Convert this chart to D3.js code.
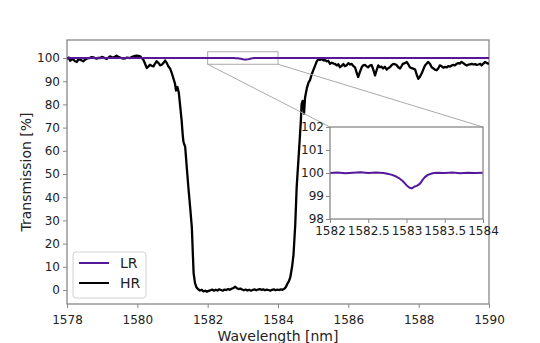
<!DOCTYPE html>
<html>
<head>
<meta charset="utf-8">
<script src="https://cdn.jsdelivr.net/npm/d3@7"></script>
<style>
  body { margin: 0; background: #fff; }
  text { font-family: "DejaVu Sans", sans-serif; fill: #222; }
</style>
</head>
<body>
<div id="chart"></div>
<script>
// HR measurement (wavelength nm, transmission %)
var hrWavelength = [
  1578.00,1578.05,1578.09,1578.14,1578.18,1578.23,1578.28,1578.32,1578.37,1578.42,
  1578.46,1578.51,1578.56,1578.61,1578.65,1578.70,1578.75,1578.80,1578.84,1578.89,
  1578.94,1578.99,1579.03,1579.08,1579.13,1579.18,1579.22,1579.27,1579.32,1579.37,
  1579.41,1579.46,1579.51,1579.56,1579.60,1579.65,1579.70,1579.75,1579.79,1579.84,
  1579.89,1579.94,1579.98,1580.03,1580.08,1580.12,1580.17,1580.22,1580.27,1580.31,
  1580.36,1580.41,1580.46,1580.50,1580.55,1580.60,1580.65,1580.70,1580.74,1580.79,
  1580.84,1580.88,1580.93,1580.98,1581.02,1581.07,1581.10,1581.14,1581.18,1581.22,
  1581.26,1581.29,1581.31,1581.34,1581.36,1581.40,1581.45,1581.50,1581.55,1581.58,
  1581.60,1581.64,1581.68,1581.73,1581.78,1581.83,1581.88,1581.93,1581.98,1582.03,
  1582.08,1582.13,1582.18,1582.23,1582.28,1582.33,1582.38,1582.43,1582.48,1582.53,
  1582.58,1582.63,1582.68,1582.73,1582.78,1582.83,1582.88,1582.93,1582.98,1583.03,
  1583.08,1583.13,1583.18,1583.23,1583.28,1583.33,1583.38,1583.43,1583.48,1583.53,
  1583.58,1583.63,1583.68,1583.73,1583.78,1583.83,1583.88,1583.93,1583.98,1584.03,
  1584.08,1584.13,1584.18,1584.22,1584.26,1584.31,1584.35,1584.40,1584.44,1584.49,
  1584.53,1584.58,1584.62,1584.65,1584.67,1584.70,1584.72,1584.74,1584.77,1584.82,
  1584.87,1584.91,1584.96,1585.01,1585.05,1585.10,1585.15,1585.19,1585.24,1585.29,
  1585.34,1585.39,1585.43,1585.48,1585.53,1585.58,1585.62,1585.67,1585.72,1585.76,
  1585.81,1585.86,1585.90,1585.95,1586.00,1586.05,1586.09,1586.14,1586.19,1586.23,
  1586.28,1586.33,1586.38,1586.42,1586.47,1586.52,1586.56,1586.61,1586.66,1586.71,
  1586.76,1586.80,1586.85,1586.90,1586.94,1586.99,1587.04,1587.09,1587.13,1587.18,
  1587.23,1587.28,1587.33,1587.37,1587.42,1587.47,1587.51,1587.55,1587.61,1587.66,
  1587.70,1587.75,1587.80,1587.85,1587.90,1587.94,1587.99,1588.04,1588.09,1588.13,
  1588.18,1588.23,1588.27,1588.32,1588.37,1588.42,1588.46,1588.51,1588.56,1588.60,
  1588.65,1588.70,1588.75,1588.80,1588.84,1588.89,1588.94,1588.99,1589.03,1589.08,
  1589.13,1589.17,1589.22,1589.27,1589.32,1589.37,1589.41,1589.46,1589.51,1589.56,
  1589.61,1589.65,1589.70,1589.75,1589.79,1589.84,1589.89,1589.94,1590.00
];
var hrTransmission = [
  99.6,100.2,98.8,99.5,99.3,98.6,98.3,99.4,99.3,98.9,
  98.6,99.2,99.7,99.9,100.0,100.4,100.3,99.9,99.7,100.1,
  100.0,100.5,100.3,99.9,99.6,100.2,100.7,100.4,100.2,100.6,
  101.0,100.5,100.2,99.9,99.7,99.8,100.2,100.1,100.0,100.4,
  100.7,100.9,101.0,100.9,100.7,100.1,99.3,97.5,95.7,96.3,
  97.1,96.6,96.4,97.5,98.6,97.9,96.8,97.2,97.8,98.9,
  97.8,96.4,95.5,93.5,91.5,89.0,86.0,87.5,85.0,79.0,
  73.0,67.0,64.0,62.5,61.8,54.0,44.5,36.0,27.0,15.0,
  7.3,3.0,1.2,0.3,-0.2,0.1,-0.6,-0.3,-0.7,-0.4,
  -0.1,0.2,-0.3,0.1,-0.2,0.3,0.0,-0.3,0.2,0.0,
  0.4,0.1,0.5,0.9,1.4,0.8,0.4,0.6,0.2,-0.1,
  0.2,-0.2,0.1,-0.3,0.0,0.3,-0.1,0.2,0.4,0.1,
  0.3,-0.1,0.2,0.0,-0.3,0.1,0.3,-0.1,0.2,0.0,
  0.3,0.1,0.5,1.2,2.5,3.8,5.5,10.0,15.0,28.0,
  44.0,56.0,65.5,73.0,80.0,81.5,79.0,76.0,83.0,87.0,
  89.5,90.5,93.0,95.0,96.5,98.5,99.5,99.2,99.6,99.0,
  99.1,98.6,98.8,97.5,98.0,97.6,97.5,96.8,97.3,96.0,
  96.6,97.4,96.5,96.8,97.8,97.2,97.5,96.6,96.0,94.0,
  91.8,94.0,96.0,96.8,97.0,96.4,96.0,96.7,97.0,95.0,
  92.5,94.5,96.8,96.0,96.3,95.5,96.2,95.0,95.6,96.0,
  96.9,97.5,97.3,97.0,96.0,95.5,96.4,97.5,97.8,98.3,
  97.4,96.0,95.6,95.4,95.0,93.0,91.0,92.0,93.5,95.0,
  96.8,97.6,98.3,97.5,96.0,95.5,95.0,94.7,95.6,96.8,
  96.5,95.8,96.2,96.0,96.5,96.3,96.8,97.0,96.8,97.5,
  97.8,97.6,98.3,97.8,97.2,96.8,97.1,97.3,97.5,97.2,
  97.4,97.0,97.2,97.5,96.8,97.6,98.3,97.8,97.5
];

// LR measurement
var lrWavelength = [
  1578.0,1578.5,1579.0,1579.5,1580.0,1580.5,1581.0,1581.5,1582.0,1582.1,
  1582.2,1582.3,1582.4,1582.5,1582.6,1582.7,1582.75,1582.8,1582.85,1582.9,
  1582.95,1583.0,1583.04,1583.07,1583.1,1583.14,1583.18,1583.21,1583.24,1583.28,
  1583.32,1583.36,1583.4,1583.5,1583.6,1583.7,1583.8,1583.9,1584.0,1584.5,
  1585.0,1585.5,1586.0,1586.5,1587.0,1587.5,1588.0,1588.5,1589.0,1589.5,1590.0
];
var lrTransmission = [
  100.0,100.02,99.98,100.01,100.0,99.99,100.02,100.0,100.0,100.02,
  99.99,100.01,100.03,100.0,100.02,100.0,99.97,99.93,99.87,99.78,
  99.65,99.47,99.36,99.33,99.40,99.45,99.55,99.70,99.82,99.92,
  99.97,100.0,100.01,100.0,100.02,99.99,100.01,100.0,100.01,100.0,
  100.02,99.99,100.0,100.01,99.98,100.0,100.02,100.0,99.99,100.01,100.0
];

var seriesNames = ["LR", "HR"];
var xTicks = [1578, 1580, 1582, 1584, 1586, 1588, 1590];
var yTicks = [0, 10, 20, 30, 40, 50, 60, 70, 80, 90, 100];
var insetXTicks = [1582, 1582.5, 1583, 1583.5, 1584];
var insetYTicks = [98, 99, 100, 101, 102];

var lrColor = "#55189a";
var hrColor = "#000000";
var spineColor = "#888888";

var svgWidth = 540;
var svgHeight = 343;
var margin = {top: 40, right: 51, bottom: 39, left: 67};
var width = svgWidth - margin.left - margin.right;
var height = svgHeight - margin.top - margin.bottom;

var svg = d3.select("#chart")
  .append("svg")
  .attr("width", svgWidth)
  .attr("height", svgHeight);

var chartGroup = svg.append("g")
  .attr("transform", `translate(${margin.left}, ${margin.top})`);

var xScale = d3.scaleLinear().domain([1578, 1590]).range([0, width]);
var yScale = d3.scaleLinear().domain([-6.03, 107.76]).range([height, 0]);

var hrData = hrWavelength.map((w, i) => ({x: w, y: hrTransmission[i]}));
var lrData = lrWavelength.map((w, i) => ({x: w, y: lrTransmission[i]}));

svg.append("defs").append("clipPath").attr("id", "mainClip")
  .append("rect").attr("width", width).attr("height", height);

function styleAxis(g) {
  g.selectAll(".domain").remove();
  g.selectAll(".tick line").attr("stroke", spineColor).attr("stroke-width", 1);
  g.selectAll(".tick text").attr("font-size", "12px").attr("fill", "#222");
}

// axes
chartGroup.append("g")
  .attr("transform", `translate(0, ${height})`)
  .call(d3.axisBottom(xScale).tickValues(xTicks).tickFormat(d3.format("d")).tickSize(4).tickPadding(7))
  .call(styleAxis);

chartGroup.append("g")
  .call(d3.axisLeft(yScale).tickValues(yTicks).tickSize(4).tickPadding(3))
  .call(styleAxis);

chartGroup.append("rect")
  .attr("width", width).attr("height", height)
  .attr("fill", "none").attr("stroke", spineColor).attr("stroke-width", 1.3);

// zoom box and connectors (drawn under the curves)
var box = {x0: 1582, x1: 1584, y0: 97.3, y1: 102.7};
var inset = {left: 330, top: 127, right: 483, bottom: 219};

chartGroup.append("rect")
  .attr("x", xScale(box.x0)).attr("y", yScale(box.y1))
  .attr("width", xScale(box.x1) - xScale(box.x0))
  .attr("height", yScale(box.y0) - yScale(box.y1))
  .attr("fill", "none").attr("stroke", "#aaa").attr("stroke-width", 1);

svg.append("line")
  .attr("x1", margin.left + xScale(box.x0)).attr("y1", margin.top + yScale(box.y0))
  .attr("x2", inset.left).attr("y2", inset.top)
  .attr("stroke", "#aaa").attr("stroke-width", 1);
svg.append("line")
  .attr("x1", margin.left + xScale(box.x1)).attr("y1", margin.top + yScale(box.y0))
  .attr("x2", inset.right).attr("y2", inset.top)
  .attr("stroke", "#aaa").attr("stroke-width", 1);

var line = d3.line().x(d => xScale(d.x)).y(d => yScale(d.y));

var plotArea = chartGroup.append("g").attr("clip-path", "url(#mainClip)");
plotArea.append("path").datum(hrData)
  .attr("d", line).attr("fill", "none")
  .attr("stroke", hrColor).attr("stroke-width", 2.3).attr("stroke-linejoin", "round");
plotArea.append("path").datum(lrData)
  .attr("d", line).attr("fill", "none")
  .attr("stroke", lrColor).attr("stroke-width", 2).attr("stroke-linejoin", "round");

// axis labels
chartGroup.append("text")
  .attr("x", width / 2).attr("y", height + 37)
  .attr("text-anchor", "middle").attr("font-size", "14px")
  .text("Wavelength [nm]");

svg.append("text")
  .attr("transform", `translate(31, ${margin.top + height / 2}) rotate(-90)`)
  .attr("text-anchor", "middle").attr("font-size", "14px")
  .text("Transmission [%]");

// legend
var legend = chartGroup.append("g").attr("transform", "translate(6, 212)");
legend.append("rect")
  .attr("width", 73).attr("height", 46).attr("rx", 3)
  .attr("fill", "#fff").attr("fill-opacity", 0.8)
  .attr("stroke", "#d0d0d0").attr("stroke-width", 1);
[lrColor, hrColor].forEach(function(c, i) {
  legend.append("line")
    .attr("x1", 6).attr("x2", 36)
    .attr("y1", 11 + i * 20).attr("y2", 11 + i * 20)
    .attr("stroke", c).attr("stroke-width", 2);
  legend.append("text")
    .attr("x", 47).attr("y", 16 + i * 20)
    .attr("font-size", "14px")
    .text(seriesNames[i]);
});

// inset
var iw = inset.right - inset.left;
var ih = inset.bottom - inset.top;
var insetGroup = svg.append("g").attr("transform", `translate(${inset.left}, ${inset.top})`);
var ixScale = d3.scaleLinear().domain([1582, 1584]).range([0, iw]);
var iyScale = d3.scaleLinear().domain([98, 102]).range([ih, 0]);

svg.select("defs").append("clipPath").attr("id", "insetClip")
  .append("rect").attr("width", iw).attr("height", ih);

insetGroup.append("rect").attr("width", iw).attr("height", ih).attr("fill", "#fff");

insetGroup.append("g")
  .attr("transform", `translate(0, ${ih})`)
  .call(d3.axisBottom(ixScale).tickValues(insetXTicks).tickFormat(d => d).tickSize(4).tickPadding(3))
  .call(styleAxis);
insetGroup.append("g")
  .call(d3.axisLeft(iyScale).tickValues(insetYTicks).tickFormat(d3.format("d")).tickSize(4).tickPadding(2))
  .call(styleAxis)
  .selectAll(".tick text").attr("dy", "0.25em");

var insetLine = d3.line().x(d => ixScale(d.x)).y(d => iyScale(d.y));
insetGroup.append("g").attr("clip-path", "url(#insetClip)")
  .append("path").datum(lrData)
  .attr("d", insetLine).attr("fill", "none")
  .attr("stroke", lrColor).attr("stroke-width", 2).attr("stroke-linejoin", "round");

insetGroup.append("rect")
  .attr("width", iw).attr("height", ih)
  .attr("fill", "none").attr("stroke", spineColor).attr("stroke-width", 1.3);
</script>
</body>
</html>
